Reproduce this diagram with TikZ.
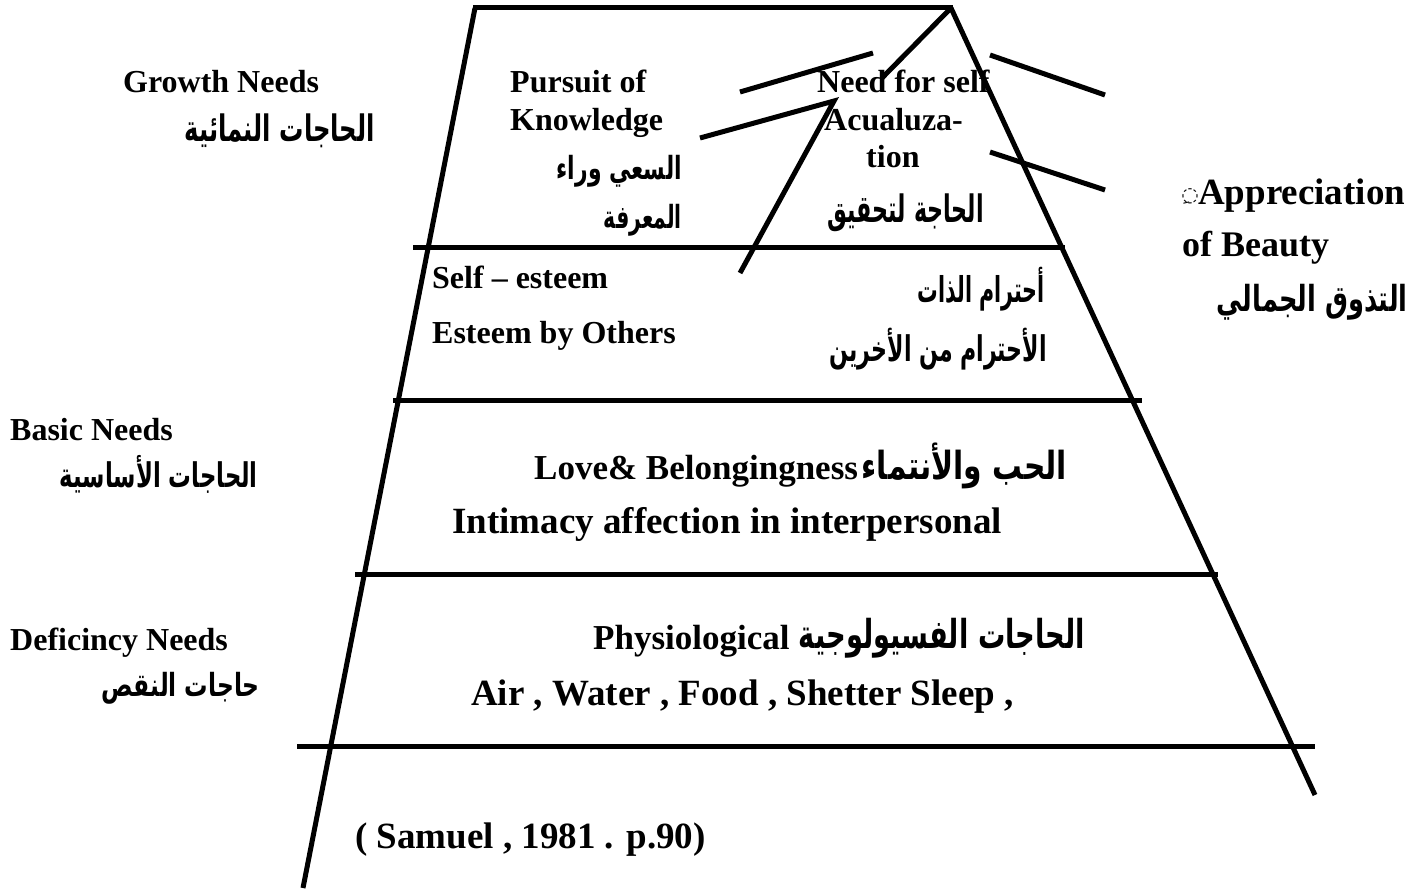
\documentclass[tikz,border=0pt]{standalone}
\usepackage{fontspec}
\setmainfont{Liberation Serif}
\newfontfamily\arabicfont[Script=Arabic]{DejaVu Sans}
\TeXXeTstate=1
\newcommand\AR[3]{\resizebox*{#1pt}{#2pt}{\arabicfont\bfseries #3}}
\tikzset{
  edge/.style={line width=5pt, line cap=butt},
  lbl/.style={inner sep=0pt, font=\bfseries\fontsize{32}{38}\selectfont},
  big/.style={inner sep=0pt, font=\bfseries\fontsize{37}{42}\selectfont},
  ar/.style={inner sep=0pt}
}
\begin{document}
\begin{tikzpicture}[x=1pt,y=-1pt]
\useasboundingbox (0,0) rectangle (1427,896);
% trapezoid corners
\coordinate (tl) at (475,8);
\coordinate (tr) at (951,8);
\coordinate (bl) at (303,888);
\coordinate (br) at (1315,795);
\draw[edge] (473,8) coordinate (t0) -- (953,8) coordinate (t1);
\draw[edge] (tl) -- (bl);
\draw[edge] (tr) -- (br);
% levels
\coordinate (h1a) at (413,248); \coordinate (h1b) at (1065,248);
\coordinate (h2a) at (393,400); \coordinate (h2b) at (1142,400);
\coordinate (h3a) at (355,574); \coordinate (h3b) at (1218,574);
\coordinate (h4a) at (297,746); \coordinate (h4b) at (1315,746);
\draw[edge] (h1a) -- (h1b);
\draw[edge] (h2a) -- (h2b);
\draw[edge] (h3a) -- (h3b);
\draw[edge] (h4a) -- (h4b);
% strokes near top
\coordinate (s1a) at (740,92); \coordinate (s1b) at (873,53);
\coordinate (s2a) at (882,78);
\coordinate (s3a) at (700,138); \coordinate (s3b) at (834,101); \coordinate (s3c) at (740,273);
\coordinate (s5a) at (990,55); \coordinate (s5b) at (1105,95);
\coordinate (s6a) at (990,152); \coordinate (s6b) at (1105,190);
\draw[edge] (s1a) -- (s1b);
\draw[edge] (s2a) -- (tr);
\draw[edge, line join=miter] (s3a) -- (s3b) -- (s3c);
\draw[edge] (s5a) -- (s5b);
\draw[edge] (s6a) -- (s6b);
% left labels
\node[lbl, anchor=base west] (growth) at (123,93) {Growth Needs};
\node[ar, anchor=east] (growthar) at (375,131) {\AR{190}{34}{\beginR الحاجات النمائية\endR}};
\node[lbl, anchor=base west] (basic) at (10,440) {Basic Needs};
\node[ar, anchor=east] (basicar) at (258,474) {\AR{198}{38}{\beginR الحاجات الأساسية\endR}};
\node[lbl, anchor=base west] (defic) at (10,650) {Deficincy Needs};
\node[ar, anchor=east] (deficar) at (260,688) {\AR{158}{32}{\beginR حاجات النقص\endR}};
% top level
\node[lbl, anchor=base west] (pursuit) at (510,93) {Pursuit of};
\node[lbl, anchor=base west] (knowledge) at (510,131) {Knowledge};
\node[ar, anchor=east] (pursuitar) at (682,171) {\AR{125}{32}{\beginR السعي وراء\endR}};
\node[ar, anchor=east] (knowar) at (682,220) {\AR{78}{32}{\beginR المعرفة\endR}};
\node[lbl, anchor=base west] (need1) at (817,93) {Need for self};
\node[lbl, anchor=base west] (need2) at (824,131) {Acualuza-};
\node[lbl, anchor=base west] (need3) at (866,168) {tion};
\node[ar, anchor=east] (needar) at (984,213) {\AR{156}{38}{\beginR الحاجة لتحقيق\endR}};
% esteem level
\node[lbl, anchor=base west] (selfest) at (432,288) {Self – esteem};
\node[lbl, anchor=base west] (others) at (432,343) {Esteem by Others};
\node[ar, anchor=east] (selfar) at (1045,289) {\AR{127}{44}{\beginR أحترام الذات\endR}};
\node[ar, anchor=east] (othersar) at (1047,349) {\AR{217}{42}{\beginR الأحترام من الأخرين\endR}};
% right labels
\node[inner sep=0pt] (dotc) at (1190,196) {{\arabicfont\fontsize{20}{20}\selectfont ◌ِ}};
\node[big, anchor=base west] (apprec) at (1198,205) {Appreciation};
\node[inner sep=0pt, font=\bfseries\fontsize{36}{40}\selectfont, anchor=base west] (beauty) at (1182,256) {of Beauty};
\node[ar, anchor=east] (beautyar) at (1408,302) {\AR{191}{36}{\beginR التذوق الجمالي\endR}};
% love level
\node[inner sep=0pt, font=\bfseries\fontsize{35}{40}\selectfont, anchor=base west] (love) at (534,479) {Love\& Belongingness};
\node[ar, anchor=east] (lovear) at (1067,466) {\AR{205}{46}{\beginR الحب والأنتماء\endR}};
\node[big, anchor=base west] (intim) at (452,533) {Intimacy affection in interpersonal};
% physiological level
\node[inner sep=0pt, font=\bfseries\fontsize{35}{40}\selectfont, anchor=base west] (phys) at (593,649) {Physiological};
\node[ar, anchor=east] (physar) at (1085,638) {\AR{286}{40}{\beginR الحاجات الفسيولوجية\endR}};
\node[big, anchor=base west] (air) at (471,705) {Air , Water , Food , Shetter Sleep ,};
% source
\node[big, anchor=base west] (src) at (355,848) {( Samuel , 1981 . p.90)};
\end{tikzpicture}
\end{document}
